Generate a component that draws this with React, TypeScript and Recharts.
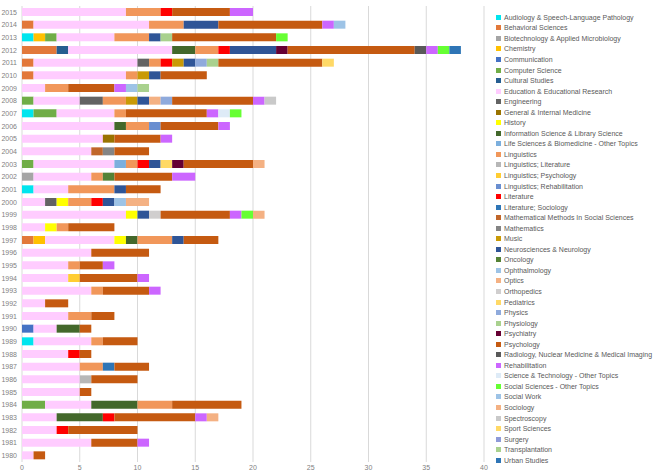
import React from 'react';
import { BarChart, Bar, XAxis, YAxis, CartesianGrid } from 'recharts';

// years 1980 .. 2015
const years = [
  1980, 1981, 1982, 1983, 1984, 1985, 1986, 1987, 1988, 1989,
  1990, 1991, 1992, 1993, 1994, 1995, 1996, 1997, 1998, 1999,
  2000, 2001, 2002, 2003, 2004, 2005, 2006, 2007, 2008, 2009,
  2010, 2011, 2012, 2013, 2014, 2015,
];

const xTicks = [0, 5, 10, 15, 20, 25, 30, 35, 40];

// counts per year, same order as `years`
//                      1980                          1990                          2000                          2010
const audiology =      [0, 0, 0, 0, 0, 0, 0, 0, 0, 1, 0, 0, 0, 0, 0, 0, 0, 0, 0, 0, 0, 1, 0, 0, 0, 0, 0, 1, 0, 0, 0, 0, 0, 1, 0, 0];
const behavioral =     [0, 0, 0, 0, 0, 0, 0, 0, 0, 0, 0, 0, 0, 0, 0, 0, 0, 1, 0, 0, 0, 0, 0, 0, 0, 0, 0, 0, 0, 0, 1, 1, 3, 0, 1, 0];
const biotech =        [0, 0, 0, 0, 0, 0, 0, 0, 0, 0, 0, 0, 0, 0, 0, 0, 0, 0, 0, 0, 0, 0, 1, 0, 0, 0, 0, 0, 0, 0, 0, 0, 0, 0, 0, 0];
const chemistry =      [0, 0, 0, 0, 0, 0, 0, 0, 0, 0, 0, 0, 0, 0, 0, 0, 0, 1, 0, 0, 0, 0, 0, 0, 0, 0, 0, 0, 0, 0, 0, 0, 0, 1, 0, 0];
const communication =  [0, 0, 0, 0, 0, 0, 0, 0, 0, 0, 1, 0, 0, 0, 0, 0, 0, 0, 0, 0, 0, 0, 0, 0, 0, 0, 0, 0, 0, 0, 0, 0, 0, 0, 0, 0];
const computerSci =    [0, 0, 0, 0, 2, 0, 0, 0, 0, 0, 0, 0, 0, 0, 0, 0, 0, 0, 0, 0, 0, 0, 0, 1, 0, 0, 0, 2, 1, 0, 0, 0, 0, 1, 0, 0];
const cultural =       [0, 0, 0, 0, 0, 0, 0, 0, 0, 0, 0, 0, 0, 0, 0, 0, 0, 0, 0, 0, 0, 0, 0, 0, 0, 0, 0, 0, 0, 0, 0, 0, 1, 0, 0, 0];
const education =      [1, 6, 3, 3, 4, 5, 5, 5, 4, 5, 2, 4, 2, 6, 4, 4, 6, 6, 2, 9, 2, 3, 5, 7, 6, 7, 8, 5, 4, 2, 8, 9, 9, 5, 10, 9];
const engineering =    [0, 0, 0, 0, 0, 0, 0, 0, 0, 0, 0, 0, 0, 0, 0, 0, 0, 0, 0, 0, 1, 0, 0, 0, 0, 0, 0, 0, 2, 0, 0, 1, 0, 0, 0, 0];
const generalMed =     [0, 0, 0, 0, 0, 0, 0, 0, 0, 0, 0, 0, 0, 0, 0, 0, 0, 0, 0, 0, 0, 0, 0, 0, 0, 1, 0, 0, 0, 0, 0, 0, 0, 0, 0, 0];
const history =        [0, 0, 0, 0, 0, 0, 0, 0, 0, 0, 0, 0, 0, 0, 0, 0, 0, 1, 1, 1, 1, 0, 0, 0, 0, 0, 0, 0, 0, 0, 0, 0, 0, 0, 0, 0];
const infoSci =        [0, 0, 0, 4, 4, 0, 0, 0, 0, 0, 2, 0, 0, 0, 0, 0, 0, 1, 0, 0, 0, 0, 0, 0, 0, 0, 1, 0, 0, 0, 0, 0, 2, 0, 0, 0];
const lifeSci =        [0, 0, 0, 0, 0, 0, 0, 0, 0, 0, 0, 0, 0, 0, 0, 0, 0, 0, 0, 0, 0, 0, 0, 1, 0, 0, 0, 0, 0, 0, 0, 0, 0, 0, 0, 0];
const linguistics =    [0, 0, 0, 0, 3, 0, 0, 2, 0, 1, 0, 2, 0, 1, 0, 1, 0, 3, 1, 0, 2, 4, 1, 1, 0, 0, 2, 1, 2, 2, 1, 1, 2, 3, 3, 3];
const lingLit =        [0, 0, 0, 0, 0, 0, 1, 0, 0, 0, 0, 0, 0, 0, 0, 0, 0, 0, 0, 0, 0, 0, 0, 0, 0, 0, 0, 0, 0, 0, 0, 0, 0, 0, 0, 0];
const lingPsych =      [0, 0, 0, 0, 0, 0, 0, 0, 0, 0, 0, 0, 0, 0, 1, 0, 0, 0, 0, 0, 0, 0, 0, 0, 0, 0, 0, 0, 0, 0, 0, 0, 0, 0, 0, 0];
const lingRehab =      [0, 0, 0, 0, 0, 0, 0, 0, 0, 0, 0, 0, 0, 0, 0, 0, 0, 0, 0, 0, 0, 0, 0, 0, 0, 0, 1, 0, 0, 0, 0, 0, 0, 0, 0, 0];
const literature =     [0, 0, 1, 1, 0, 0, 0, 0, 1, 0, 0, 0, 0, 0, 0, 0, 0, 0, 0, 0, 1, 0, 0, 1, 0, 0, 0, 0, 0, 0, 0, 1, 1, 0, 0, 1];
const litSoc =         [0, 0, 0, 0, 0, 0, 0, 1, 0, 0, 0, 0, 0, 0, 0, 0, 0, 0, 0, 0, 0, 0, 0, 0, 0, 0, 0, 0, 0, 0, 0, 0, 0, 0, 0, 0];
const mathMethods =    [0, 0, 0, 0, 0, 0, 0, 0, 0, 0, 0, 0, 0, 0, 0, 0, 0, 0, 0, 0, 0, 0, 0, 0, 1, 0, 0, 0, 0, 0, 0, 0, 0, 0, 0, 0];
const mathematics =    [0, 0, 0, 0, 0, 0, 0, 0, 0, 0, 0, 0, 0, 0, 0, 0, 0, 0, 0, 0, 0, 0, 0, 0, 1, 0, 0, 0, 0, 0, 0, 0, 0, 0, 0, 0];
const music =          [0, 0, 0, 0, 0, 0, 0, 0, 0, 0, 0, 0, 0, 0, 0, 0, 0, 0, 0, 0, 0, 0, 0, 0, 0, 0, 0, 0, 1, 0, 1, 1, 0, 0, 0, 0];
const neuro =          [0, 0, 0, 0, 0, 0, 0, 0, 0, 0, 0, 0, 0, 0, 0, 0, 0, 1, 0, 1, 1, 1, 0, 1, 0, 0, 0, 0, 1, 0, 1, 1, 4, 1, 3, 0];
const oncology =       [0, 0, 0, 0, 0, 0, 0, 0, 0, 0, 0, 0, 0, 0, 0, 0, 0, 0, 0, 0, 0, 0, 1, 0, 0, 0, 0, 0, 0, 0, 0, 0, 0, 0, 0, 0];
const ophthalmology =  [0, 0, 0, 0, 0, 0, 0, 0, 0, 0, 0, 0, 0, 0, 0, 0, 0, 0, 0, 0, 1, 0, 0, 0, 0, 0, 0, 0, 0, 0, 0, 0, 0, 0, 0, 0];
const optics =         [0, 0, 0, 0, 0, 0, 0, 0, 0, 0, 0, 0, 0, 0, 0, 0, 0, 0, 0, 0, 0, 0, 0, 0, 0, 0, 0, 0, 1, 0, 0, 0, 0, 0, 0, 0];
const orthopedics =    [0, 0, 0, 0, 0, 0, 0, 0, 0, 0, 0, 0, 0, 0, 0, 0, 0, 0, 0, 1, 0, 0, 0, 0, 0, 0, 0, 0, 0, 0, 0, 0, 0, 0, 0, 0];
const pediatrics =     [0, 0, 0, 0, 0, 0, 0, 0, 0, 0, 0, 0, 0, 0, 0, 0, 0, 0, 0, 0, 0, 0, 0, 1, 0, 0, 0, 0, 0, 0, 0, 0, 0, 0, 0, 0];
const physics =        [0, 0, 0, 0, 0, 0, 0, 0, 0, 0, 0, 0, 0, 0, 0, 0, 0, 0, 0, 0, 0, 0, 0, 0, 0, 0, 0, 0, 1, 0, 0, 1, 0, 0, 0, 0];
const physiology =     [0, 0, 0, 0, 0, 0, 0, 0, 0, 0, 0, 0, 0, 0, 0, 0, 0, 0, 0, 0, 0, 0, 0, 0, 0, 0, 0, 0, 0, 0, 0, 1, 0, 1, 0, 0];
const psychiatry =     [0, 0, 0, 0, 0, 0, 0, 0, 0, 0, 0, 0, 0, 0, 0, 0, 0, 0, 0, 0, 0, 0, 0, 1, 0, 0, 0, 0, 0, 0, 0, 0, 1, 0, 0, 0];
const psychology =     [1, 4, 6, 7, 6, 1, 4, 3, 1, 3, 1, 2, 2, 4, 5, 2, 5, 3, 4, 6, 0, 3, 5, 6, 3, 4, 5, 7, 7, 4, 4, 9, 11, 9, 9, 5];
const radiology =      [0, 0, 0, 0, 0, 0, 0, 0, 0, 0, 0, 0, 0, 0, 0, 0, 0, 0, 0, 0, 0, 0, 0, 0, 0, 0, 0, 0, 0, 0, 0, 0, 1, 0, 0, 0];
const rehabilitation = [0, 1, 0, 1, 0, 0, 0, 0, 0, 0, 0, 0, 0, 1, 1, 1, 0, 0, 0, 1, 0, 0, 2, 0, 0, 1, 1, 1, 1, 1, 0, 0, 1, 0, 1, 2];
const sciTech =        [0, 0, 0, 0, 0, 0, 0, 0, 0, 0, 0, 0, 0, 0, 0, 0, 0, 0, 0, 0, 0, 0, 0, 0, 0, 0, 0, 1, 0, 0, 0, 0, 0, 0, 0, 0];
const socSci =         [0, 0, 0, 0, 0, 0, 0, 0, 0, 0, 0, 0, 0, 0, 0, 0, 0, 0, 0, 1, 0, 0, 0, 0, 0, 0, 0, 1, 0, 0, 0, 0, 1, 1, 0, 0];
const socialWork =     [0, 0, 0, 0, 0, 0, 0, 0, 0, 0, 0, 0, 0, 0, 0, 0, 0, 0, 0, 0, 0, 0, 0, 0, 0, 0, 0, 0, 0, 1, 0, 0, 0, 0, 1, 0];
const sociology =      [0, 0, 0, 1, 0, 0, 0, 0, 0, 0, 0, 0, 0, 0, 0, 0, 0, 0, 0, 1, 2, 0, 0, 1, 0, 0, 0, 0, 0, 0, 0, 0, 0, 0, 0, 0];
const spectroscopy =   [0, 0, 0, 0, 0, 0, 0, 0, 0, 0, 0, 0, 0, 0, 0, 0, 0, 0, 0, 0, 0, 0, 0, 0, 0, 0, 0, 0, 1, 0, 0, 0, 0, 0, 0, 0];
const sport =          [0, 0, 0, 0, 0, 0, 0, 0, 0, 0, 0, 0, 0, 0, 0, 0, 0, 0, 0, 0, 0, 0, 0, 0, 0, 0, 0, 0, 0, 0, 0, 1, 0, 0, 0, 0];
const surgery =        [0, 0, 0, 0, 0, 0, 0, 0, 0, 0, 0, 0, 0, 0, 0, 0, 0, 0, 0, 0, 0, 0, 0, 0, 0, 0, 0, 0, 0, 0, 0, 0, 0, 0, 0, 0];
const transplant =     [0, 0, 0, 0, 0, 0, 0, 0, 0, 0, 0, 0, 0, 0, 0, 0, 0, 0, 0, 0, 0, 0, 0, 0, 0, 0, 0, 0, 0, 1, 0, 0, 0, 0, 0, 0];
const urban =          [0, 0, 0, 0, 0, 0, 0, 0, 0, 0, 0, 0, 0, 0, 0, 0, 0, 0, 0, 0, 0, 0, 0, 0, 0, 0, 0, 0, 0, 0, 0, 0, 1, 0, 0, 0];

const series = [
  { name: 'Audiology & Speech-Language Pathology', values: audiology, color: '#00e5ee' },
  { name: 'Behavioral Sciences', values: behavioral, color: '#e2783a' },
  { name: 'Biotechnology & Applied Microbiology', values: biotech, color: '#a5a5a5' },
  { name: 'Chemistry', values: chemistry, color: '#ffc000' },
  { name: 'Communication', values: communication, color: '#4472c4' },
  { name: 'Computer Science', values: computerSci, color: '#70ad47' },
  { name: 'Cultural Studies', values: cultural, color: '#255e91' },
  { name: 'Education & Educational Research', values: education, color: '#ffccff' },
  { name: 'Engineering', values: engineering, color: '#636363' },
  { name: 'General & Internal Medicine', values: generalMed, color: '#997300' },
  { name: 'History', values: history, color: '#ffff00' },
  { name: 'Information Science & Library Science', values: infoSci, color: '#43682b' },
  { name: 'Life Sciences & Biomedicine - Other Topics', values: lifeSci, color: '#7cafdd' },
  { name: 'Linguistics', values: linguistics, color: '#f1975a' },
  { name: 'Linguistics; Literature', values: lingLit, color: '#b7b7b7' },
  { name: 'Linguistics; Psychology', values: lingPsych, color: '#ffcd33' },
  { name: 'Linguistics; Rehabilitation', values: lingRehab, color: '#698ed0' },
  { name: 'Literature', values: literature, color: '#ff0000' },
  { name: 'Literature; Sociology', values: litSoc, color: '#2e75b6' },
  { name: 'Mathematical Methods In Social Sciences', values: mathMethods, color: '#c0662a' },
  { name: 'Mathematics', values: mathematics, color: '#848484' },
  { name: 'Music', values: music, color: '#c99a06' },
  { name: 'Neurosciences & Neurology', values: neuro, color: '#2f5597' },
  { name: 'Oncology', values: oncology, color: '#548235' },
  { name: 'Ophthalmology', values: ophthalmology, color: '#9dc3e6' },
  { name: 'Optics', values: optics, color: '#f4b183' },
  { name: 'Orthopedics', values: orthopedics, color: '#d0cece' },
  { name: 'Pediatrics', values: pediatrics, color: '#ffd966' },
  { name: 'Physics', values: physics, color: '#8faadc' },
  { name: 'Physiology', values: physiology, color: '#a9d18e' },
  { name: 'Psychiatry', values: psychiatry, color: '#660033' },
  { name: 'Psychology', values: psychology, color: '#c55a11' },
  { name: 'Radiology, Nuclear Medicine & Medical Imaging', values: radiology, color: '#595959' },
  { name: 'Rehabilitation', values: rehabilitation, color: '#cc66ff' },
  { name: 'Science & Technology - Other Topics', values: sciTech, color: '#deebf7' },
  { name: 'Social Sciences - Other Topics', values: socSci, color: '#66ff33' },
  { name: 'Social Work', values: socialWork, color: '#9dc3e6' },
  { name: 'Sociology', values: sociology, color: '#f4b183' },
  { name: 'Spectroscopy', values: spectroscopy, color: '#c9c9c9' },
  { name: 'Sport Sciences', values: sport, color: '#ffd966' },
  { name: 'Surgery', values: surgery, color: '#8e9ad8' },
  { name: 'Transplantation', values: transplant, color: '#a9d18e' },
  { name: 'Urban Studies', values: urban, color: '#2e75b6' },
];

// newest year on top
const data = years
  .map((year, i) => {
    const row: Record<string, number | string> = { year: String(year) };
    series.forEach((s, k) => {
      row['s' + k] = s.values[i];
    });
    return row;
  })
  .reverse();

const font = '"Liberation Sans", Arial, sans-serif';
const textColor = '#7f7f7f';

function LegendBox() {
  return (
    <div style={{ position: 'absolute', left: 496, top: 12, fontFamily: font, fontSize: 7, color: '#595959' }}>
      {series.map((s) => (
        <div key={s.name} style={{ height: 10.55, display: 'flex', alignItems: 'center', whiteSpace: 'nowrap' }}>
          <span style={{ display: 'inline-block', width: 5, height: 5, background: s.color, marginRight: 3 }} />
          {s.name}
        </div>
      ))}
    </div>
  );
}

export default function App() {
  return (
    <div style={{ position: 'absolute', left: 0, top: 0, width: 658, height: 474, background: '#fff' }}>
      <BarChart
        width={658}
        height={474}
        data={data}
        layout="vertical"
        margin={{ top: 6, right: 174, left: 0, bottom: 0 }}
        barSize={8}
      >
        <CartesianGrid horizontal={false} stroke="#d9d9d9" />
        <XAxis
          type="number"
          domain={[0, 40]}
          ticks={xTicks}
          axisLine={false}
          tickLine={false}
          tickSize={0}
          tickMargin={3}
          height={12}
          tick={{ fill: textColor, fontSize: 7, fontFamily: font }}
        />
        <YAxis
          dataKey="year"
          type="category"
          width={22}
          axisLine={false}
          tickLine={false}
          tickSize={0}
          tickMargin={5}
          interval={0}
          tick={{ fill: textColor, fontSize: 7, fontFamily: font }}
        />
        {series.map((s, k) => (
          <Bar key={s.name} dataKey={'s' + k} name={s.name} stackId="a" fill={s.color} isAnimationActive={false} />
        ))}
      </BarChart>
      <LegendBox />
    </div>
  );
}
